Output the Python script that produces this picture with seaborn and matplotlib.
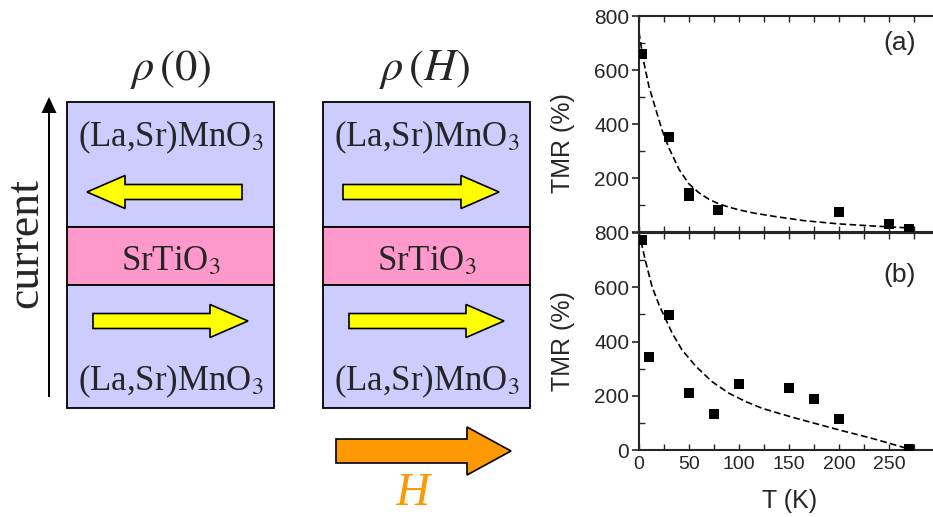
import matplotlib
matplotlib.use("Agg")
import matplotlib.pyplot as plt
import seaborn as sns
from matplotlib.patches import Rectangle, FancyArrow
from matplotlib.ticker import MultipleLocator

# ---------------- data ----------------
temp_a = [3, 30, 50, 50, 79, 200, 250, 270]
tmr_a = [660, 352, 146, 134, 82, 74, 28, 12]
fit_temp_a = [0, 3, 5, 10, 17, 23, 30, 40, 50, 60, 70, 80, 90, 100, 115, 135, 165, 200, 235, 265]
fit_tmr_a = [740, 668, 626, 538, 452, 378, 311, 232, 178, 145, 121, 104, 92, 82, 70, 58, 42, 30, 22, 16]

temp_b = [3, 10, 30, 50, 75, 100, 150, 175, 200, 270]
tmr_b = [775, 342, 496, 209, 132, 244, 228, 188, 114, 3]
fit_temp_b = [2, 7, 13, 20, 27, 33, 43, 57, 73, 90, 107, 123, 140, 157, 170, 200, 233, 267]
fit_tmr_b = [769, 689, 603, 535, 480, 432, 369, 308, 252, 209, 178, 154, 135, 117, 104, 74, 43, 7]

ytick_vals = [0, 200, 400, 600, 800]
ytick_labels_a = ["", "200", "400", "600", "800"]
ytick_labels_b = ["0", "200", "400", "600", "800"]
xtick_vals = [0, 50, 100, 150, 200, 250]
xtick_labels = ["0", "50", "100", "150", "200", "250"]

layer_top = "(La,Sr)MnO$_3$"
layer_mid = "SrTiO$_3$"
layer_bot = "(La,Sr)MnO$_3$"
title_left = r"$\rho\,(0)$"
title_right = r"$\rho\,(H)$"

# ---------------- style ----------------
sns.set_style("ticks")
plt.rcParams["font.family"] = ["Liberation Sans", "DejaVu Sans"]
plt.rcParams["mathtext.fontset"] = "stix"

W, H = 933, 517
fig = plt.figure(figsize=(W / 100, H / 100), dpi=100)

# ---------------- diagram (pixel coordinates) ----------------
dg = fig.add_axes([0, 0, 1, 1])
dg.set_xlim(0, W)
dg.set_ylim(H, 0)
dg.axis("off")
dg.patch.set_alpha(0)

lav = "#CCCCFF"
pink = "#FF99CC"
yellow = "#FFFF00"
orange = "#FF9900"
serif = ["Liberation Serif", "DejaVu Serif"]

for x0 in (67, 323):
    wbox = 207
    dg.add_patch(Rectangle((x0, 102), wbox, 125, fc=lav, ec="black", lw=1.3))
    dg.add_patch(Rectangle((x0, 227), wbox, 58, fc=pink, ec="black", lw=1.3))
    dg.add_patch(Rectangle((x0, 285), wbox, 123, fc=lav, ec="black", lw=1.3))
    cx = x0 + wbox / 2
    dg.text(cx, 146, layer_top, ha="center", va="baseline", fontsize=25, family=serif)
    dg.text(cx, 270, layer_mid, ha="center", va="baseline", fontsize=25, family=serif)
    dg.text(cx, 390, layer_bot, ha="center", va="baseline", fontsize=25, family=serif)

def arrow(x_tail, x_tip, y, fc, w, hw, hl):
    dg.add_patch(FancyArrow(x_tail, y, x_tip - x_tail, 0, width=w, head_width=hw,
                            head_length=hl, length_includes_head=True,
                            fc=fc, ec="black", lw=1.2))

arrow(242, 87, 192, yellow, 15, 33, 38)
arrow(93, 248, 321, yellow, 15, 33, 38)
arrow(343, 499, 192, yellow, 15, 33, 38)
arrow(349, 504, 321, yellow, 15, 33, 38)
arrow(336, 511, 451, orange, 24, 48, 44)

# current arrow
dg.add_patch(FancyArrow(49, 397, 0, -300, width=2, head_width=15, head_length=16,
                        length_includes_head=True, fc="black", ec="black", lw=0))
dg.text(37, 243, "current", rotation=90, rotation_mode="anchor", ha="center",
        va="baseline", fontsize=33, family=serif)

dg.text(171, 80, title_left, ha="center", va="baseline", fontsize=32, family=serif)
dg.text(425, 80, title_right, ha="center", va="baseline", fontsize=32, family=serif)
dg.text(413, 505, "H", ha="center", va="baseline", fontsize=34, family=serif,
        style="italic", color=orange)

# ---------------- plots ----------------
left = 639 / W
width = 296 / W
ax_a = fig.add_axes([left, 1 - 232 / H, width, 216 / H])
ax_b = fig.add_axes([left, 1 - 450 / H, width, 217 / H])

for ax, tx, ty, fx, fy in ((ax_a, temp_a, tmr_a, fit_temp_a, fit_tmr_a),
                           (ax_b, temp_b, tmr_b, fit_temp_b, fit_tmr_b)):
    sns.lineplot(x=fx, y=fy, ax=ax, color="black", linestyle=(0, (4, 2)), lw=1.2, zorder=2)
    sns.scatterplot(x=tx, y=ty, ax=ax, marker="s", s=48, color="black", linewidth=0, zorder=3)
    ax.set_xlim(0, 296)
    ax.set_ylim(0, 800)
    ax.set_yticks(ytick_vals)
    ax.set_xticks(xtick_vals)
    ax.xaxis.set_minor_locator(MultipleLocator(25))
    ax.yaxis.set_minor_locator(MultipleLocator(100))
    ax.tick_params(axis="y", which="major", direction="out", length=5, width=1.2,
                   labelsize=15, pad=2)
    ax.tick_params(axis="y", which="minor", direction="in", length=4, width=1)
    ax.tick_params(axis="x", which="both", direction="in", top=True, bottom=True,
                   length=4, width=1, labelsize=14, pad=4)
    ax.spines["right"].set_visible(False)
    for s in ("left", "top", "bottom"):
        ax.spines[s].set_linewidth(1.5)
    ax.patch.set_alpha(0)
    ax.set_ylabel("TMR (%)", fontsize=18)

ax_a.set_yticklabels(ytick_labels_a)
ax_a.set_xticklabels([])
ax_a.set_xlabel("")
ax_a.yaxis.set_label_coords(-0.216, 0.412)
ax_a.text(0.881, 0.875, "(a)", transform=ax_a.transAxes, ha="center", va="center", fontsize=19)

ax_b.set_yticklabels(ytick_labels_b)
ax_b.set_xticklabels(xtick_labels)
ax_b.set_xlabel("T (K)", fontsize=18)
ax_b.yaxis.set_label_coords(-0.216, 0.5)
ax_b.xaxis.set_label_coords(0.51, -0.18)
ax_b.text(0.881, 0.806, "(b)", transform=ax_b.transAxes, ha="center", va="center", fontsize=19)

fig.savefig("out.png", dpi=100)
